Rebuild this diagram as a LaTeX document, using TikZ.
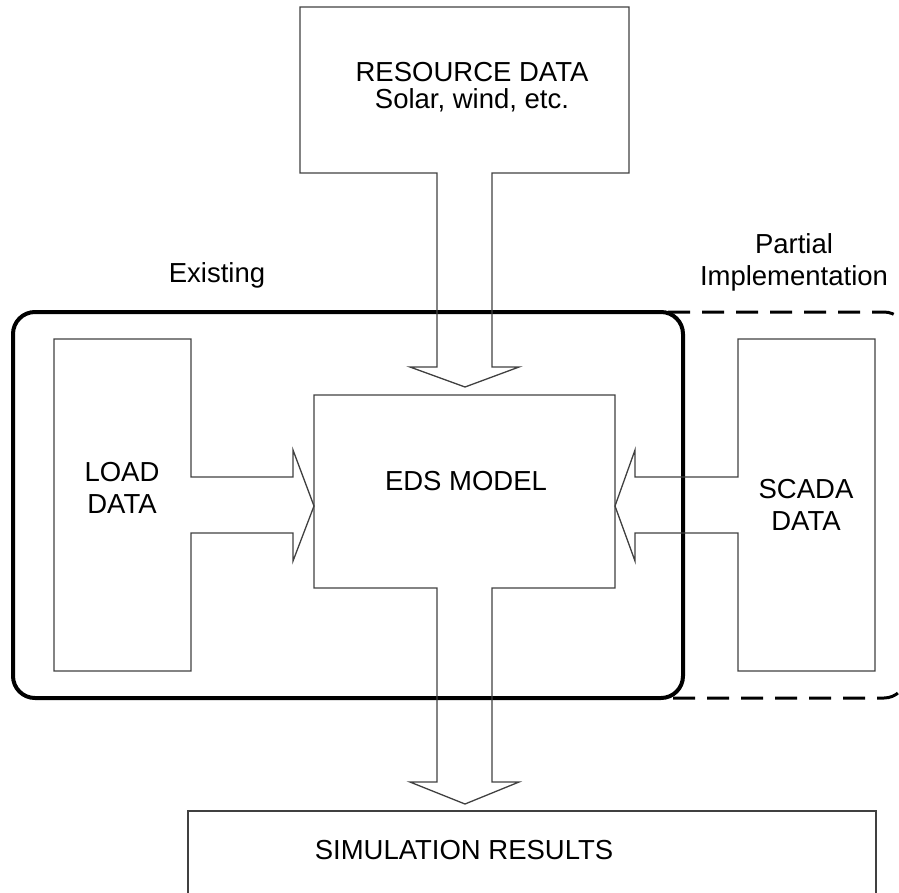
\documentclass[tikz,border=0pt]{standalone}
\usepackage{fontspec}
\setmainfont{Liberation Sans}
\begin{document}
\begin{tikzpicture}[x=1pt,y=-1pt,
  outline/.style={draw=black!75,line width=1.3pt,line join=miter},
  lbl/.style={inner sep=0pt,align=center,font=\fontsize{27.5}{32}\selectfont},
  lbltight/.style={inner sep=0pt,align=center,font=\fontsize{27.5}{27}\selectfont},
  group/.style={draw=black,line width=4pt,rounded corners=22pt},
  partial/.style={draw=black,line width=3pt,rounded corners=22pt,dash pattern=on 22pt off 12pt}]
\useasboundingbox (0,0) rectangle (899,892);
\clip (0,0) rectangle (899,892);
% dashed partial-implementation group
\draw[partial] (600,312) -- (906,312) -- (906,698) -- (600,698);
\fill[white] (590,318) rectangle (680,692);
% solid existing group
\draw[group] (13,312) rectangle (683,698);
% resource data block with down arrow
\draw[outline] (300,7) -- (629,7) -- (629,173) -- (492,173) -- (492,367) -- (519,367)
  -- (465,387) -- (410,367) -- (437,367) -- (437,173) -- (300,173) -- cycle;
\node[lbltight] (res) at (472,87) {RESOURCE DATA\\Solar, wind, etc.};
% load data block with right arrow
\draw[outline] (54,339) -- (191,339) -- (191,477) -- (293,477) -- (293,450) -- (314,506)
  -- (293,561) -- (293,533) -- (191,533) -- (191,671) -- (54,671) -- cycle;
\node[lbl] (load) at (122,488) {LOAD\\DATA};
% scada data block with left arrow
\draw[outline] (875,339) -- (738,339) -- (738,477) -- (635,477) -- (635,450) -- (615,506)
  -- (635,561) -- (635,533) -- (738,533) -- (738,671) -- (875,671) -- cycle;
\node[lbl] (scada) at (806,505) {SCADA\\DATA};
% EDS model block with down arrow
\draw[outline] (314,395) -- (615,395) -- (615,588) -- (492,588) -- (492,782) -- (519,782)
  -- (465,804) -- (410,782) -- (437,782) -- (437,588) -- (314,588) -- cycle;
\node[lbl] (eds) at (466,481) {EDS MODEL};
% simulation results
\draw[outline] (188,900) -- (188,811) -- (876,811) -- (876,900);
\node[lbl] (sim) at (464,850) {SIMULATION RESULTS};
% group labels
\node[lbl] (exist) at (217,275) {Existing};
\node[lbl] (part) at (794,262) {Partial\\Implementation};
\end{tikzpicture}
\end{document}
